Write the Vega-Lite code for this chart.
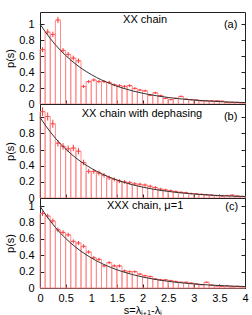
{
  "$schema": "https://vega.github.io/schema/vega-lite/v6.json",
  "padding": {"left": 4, "top": 11, "right": 7, "bottom": 0},
  "spacing": 0,
  "bounds": "flush",
  "datasets": {
    "a": [
      {"s0":0.0,"s1":0.1,"s":0.05,"p":0.68,"e":0.03},
      {"s0":0.1,"s1":0.2,"s":0.15,"p":0.90,"e":0.035},
      {"s0":0.2,"s1":0.3,"s":0.25,"p":0.87,"e":0.035},
      {"s0":0.3,"s1":0.4,"s":0.35,"p":1.05,"e":0.04},
      {"s0":0.4,"s1":0.5,"s":0.45,"p":0.67,"e":0.03},
      {"s0":0.5,"s1":0.6,"s":0.55,"p":0.62,"e":0.03},
      {"s0":0.6,"s1":0.7,"s":0.65,"p":0.575,"e":0.03},
      {"s0":0.7,"s1":0.8,"s":0.75,"p":0.54,"e":0.03},
      {"s0":0.8,"s1":0.9,"s":0.85,"p":0.22,"e":0.02},
      {"s0":0.9,"s1":1.0,"s":0.95,"p":0.28,"e":0.02},
      {"s0":1.0,"s1":1.1,"s":1.05,"p":0.30,"e":0.02},
      {"s0":1.1,"s1":1.2,"s":1.15,"p":0.28,"e":0.02},
      {"s0":1.2,"s1":1.3,"s":1.25,"p":0.28,"e":0.02},
      {"s0":1.3,"s1":1.4,"s":1.35,"p":0.27,"e":0.02},
      {"s0":1.4,"s1":1.5,"s":1.45,"p":0.24,"e":0.018},
      {"s0":1.5,"s1":1.6,"s":1.55,"p":0.23,"e":0.018},
      {"s0":1.6,"s1":1.7,"s":1.65,"p":0.22,"e":0.018},
      {"s0":1.7,"s1":1.8,"s":1.75,"p":0.23,"e":0.018},
      {"s0":1.8,"s1":1.9,"s":1.85,"p":0.195,"e":0.016},
      {"s0":1.9,"s1":2.0,"s":1.95,"p":0.175,"e":0.015},
      {"s0":2.0,"s1":2.1,"s":2.05,"p":0.165,"e":0.015},
      {"s0":2.1,"s1":2.2,"s":2.15,"p":0.11,"e":0.012},
      {"s0":2.2,"s1":2.3,"s":2.25,"p":0.14,"e":0.014},
      {"s0":2.3,"s1":2.4,"s":2.35,"p":0.105,"e":0.012},
      {"s0":2.4,"s1":2.5,"s":2.45,"p":0.07,"e":0.01},
      {"s0":2.5,"s1":2.6,"s":2.55,"p":0.055,"e":0.009},
      {"s0":2.6,"s1":2.7,"s":2.65,"p":0.07,"e":0.01},
      {"s0":2.7,"s1":2.8,"s":2.75,"p":0.095,"e":0.011},
      {"s0":2.8,"s1":2.9,"s":2.85,"p":0.06,"e":0.009},
      {"s0":2.9,"s1":3.0,"s":2.95,"p":0.055,"e":0.009},
      {"s0":3.0,"s1":3.1,"s":3.05,"p":0.05,"e":0.008},
      {"s0":3.1,"s1":3.2,"s":3.15,"p":0.04,"e":0.008},
      {"s0":3.2,"s1":3.3,"s":3.25,"p":0.04,"e":0.008},
      {"s0":3.3,"s1":3.4,"s":3.35,"p":0.04,"e":0.008},
      {"s0":3.4,"s1":3.5,"s":3.45,"p":0.04,"e":0.008},
      {"s0":3.5,"s1":3.6,"s":3.55,"p":0.035,"e":0.007},
      {"s0":3.6,"s1":3.7,"s":3.65,"p":0.02,"e":0.006},
      {"s0":3.7,"s1":3.8,"s":3.75,"p":0.02,"e":0.006},
      {"s0":3.8,"s1":3.9,"s":3.85,"p":0.02,"e":0.006},
      {"s0":3.9,"s1":4.0,"s":3.95,"p":0.015,"e":0.005}
    ],
    "b": [
      {"s0":0.0,"s1":0.1,"s":0.05,"p":1.07,"e":0.055},
      {"s0":0.1,"s1":0.2,"s":0.15,"p":1.01,"e":0.05},
      {"s0":0.2,"s1":0.3,"s":0.25,"p":0.92,"e":0.05},
      {"s0":0.3,"s1":0.4,"s":0.35,"p":0.68,"e":0.04},
      {"s0":0.4,"s1":0.5,"s":0.45,"p":0.64,"e":0.04},
      {"s0":0.5,"s1":0.6,"s":0.55,"p":0.61,"e":0.04},
      {"s0":0.6,"s1":0.7,"s":0.65,"p":0.62,"e":0.04},
      {"s0":0.7,"s1":0.8,"s":0.75,"p":0.58,"e":0.04},
      {"s0":0.8,"s1":0.9,"s":0.85,"p":0.44,"e":0.035},
      {"s0":0.9,"s1":1.0,"s":0.95,"p":0.33,"e":0.03},
      {"s0":1.0,"s1":1.1,"s":1.05,"p":0.33,"e":0.03},
      {"s0":1.1,"s1":1.2,"s":1.15,"p":0.31,"e":0.03},
      {"s0":1.2,"s1":1.3,"s":1.25,"p":0.28,"e":0.028},
      {"s0":1.3,"s1":1.4,"s":1.35,"p":0.25,"e":0.026},
      {"s0":1.4,"s1":1.5,"s":1.45,"p":0.23,"e":0.025},
      {"s0":1.5,"s1":1.6,"s":1.55,"p":0.21,"e":0.024},
      {"s0":1.6,"s1":1.7,"s":1.65,"p":0.20,"e":0.023},
      {"s0":1.7,"s1":1.8,"s":1.75,"p":0.19,"e":0.022},
      {"s0":1.8,"s1":1.9,"s":1.85,"p":0.175,"e":0.021},
      {"s0":1.9,"s1":2.0,"s":1.95,"p":0.17,"e":0.02},
      {"s0":2.0,"s1":2.1,"s":2.05,"p":0.16,"e":0.02},
      {"s0":2.1,"s1":2.2,"s":2.15,"p":0.145,"e":0.02},
      {"s0":2.2,"s1":2.3,"s":2.25,"p":0.13,"e":0.018},
      {"s0":2.3,"s1":2.4,"s":2.35,"p":0.11,"e":0.016},
      {"s0":2.4,"s1":2.5,"s":2.45,"p":0.10,"e":0.015},
      {"s0":2.5,"s1":2.6,"s":2.55,"p":0.09,"e":0.015},
      {"s0":2.6,"s1":2.7,"s":2.65,"p":0.08,"e":0.014},
      {"s0":2.7,"s1":2.8,"s":2.75,"p":0.07,"e":0.013},
      {"s0":2.8,"s1":2.9,"s":2.85,"p":0.065,"e":0.013},
      {"s0":2.9,"s1":3.0,"s":2.95,"p":0.055,"e":0.012},
      {"s0":3.0,"s1":3.1,"s":3.05,"p":0.05,"e":0.011},
      {"s0":3.1,"s1":3.2,"s":3.15,"p":0.045,"e":0.011},
      {"s0":3.2,"s1":3.3,"s":3.25,"p":0.04,"e":0.01},
      {"s0":3.3,"s1":3.4,"s":3.35,"p":0.035,"e":0.01},
      {"s0":3.4,"s1":3.5,"s":3.45,"p":0.03,"e":0.009},
      {"s0":3.5,"s1":3.6,"s":3.55,"p":0.025,"e":0.008},
      {"s0":3.6,"s1":3.7,"s":3.65,"p":0.03,"e":0.009},
      {"s0":3.7,"s1":3.8,"s":3.75,"p":0.035,"e":0.01},
      {"s0":3.8,"s1":3.9,"s":3.85,"p":0.025,"e":0.008},
      {"s0":3.9,"s1":4.0,"s":3.95,"p":0.02,"e":0.007}
    ],
    "c": [
      {"s0":0.0,"s1":0.1,"s":0.05,"p":0.91,"e":0.03},
      {"s0":0.1,"s1":0.2,"s":0.15,"p":0.88,"e":0.03},
      {"s0":0.2,"s1":0.3,"s":0.25,"p":0.82,"e":0.03},
      {"s0":0.3,"s1":0.4,"s":0.35,"p":0.71,"e":0.028},
      {"s0":0.4,"s1":0.5,"s":0.45,"p":0.68,"e":0.027},
      {"s0":0.5,"s1":0.6,"s":0.55,"p":0.65,"e":0.026},
      {"s0":0.6,"s1":0.7,"s":0.65,"p":0.57,"e":0.025},
      {"s0":0.7,"s1":0.8,"s":0.75,"p":0.55,"e":0.025},
      {"s0":0.8,"s1":0.9,"s":0.85,"p":0.51,"e":0.024},
      {"s0":0.9,"s1":1.0,"s":0.95,"p":0.44,"e":0.022},
      {"s0":1.0,"s1":1.1,"s":1.05,"p":0.37,"e":0.02},
      {"s0":1.1,"s1":1.2,"s":1.15,"p":0.35,"e":0.02},
      {"s0":1.2,"s1":1.3,"s":1.25,"p":0.27,"e":0.018},
      {"s0":1.3,"s1":1.4,"s":1.35,"p":0.31,"e":0.019},
      {"s0":1.4,"s1":1.5,"s":1.45,"p":0.27,"e":0.018},
      {"s0":1.5,"s1":1.6,"s":1.55,"p":0.27,"e":0.018},
      {"s0":1.6,"s1":1.7,"s":1.65,"p":0.21,"e":0.016},
      {"s0":1.7,"s1":1.8,"s":1.75,"p":0.20,"e":0.015},
      {"s0":1.8,"s1":1.9,"s":1.85,"p":0.20,"e":0.015},
      {"s0":1.9,"s1":2.0,"s":1.95,"p":0.17,"e":0.014},
      {"s0":2.0,"s1":2.1,"s":2.05,"p":0.15,"e":0.013},
      {"s0":2.1,"s1":2.2,"s":2.15,"p":0.14,"e":0.013},
      {"s0":2.2,"s1":2.3,"s":2.25,"p":0.11,"e":0.011},
      {"s0":2.3,"s1":2.4,"s":2.35,"p":0.10,"e":0.011},
      {"s0":2.4,"s1":2.5,"s":2.45,"p":0.10,"e":0.011},
      {"s0":2.5,"s1":2.6,"s":2.55,"p":0.09,"e":0.01},
      {"s0":2.6,"s1":2.7,"s":2.65,"p":0.08,"e":0.01},
      {"s0":2.7,"s1":2.8,"s":2.75,"p":0.07,"e":0.009},
      {"s0":2.8,"s1":2.9,"s":2.85,"p":0.07,"e":0.009},
      {"s0":2.9,"s1":3.0,"s":2.95,"p":0.06,"e":0.008},
      {"s0":3.0,"s1":3.1,"s":3.05,"p":0.05,"e":0.008},
      {"s0":3.1,"s1":3.2,"s":3.15,"p":0.04,"e":0.007},
      {"s0":3.2,"s1":3.3,"s":3.25,"p":0.07,"e":0.009},
      {"s0":3.3,"s1":3.4,"s":3.35,"p":0.035,"e":0.007},
      {"s0":3.4,"s1":3.5,"s":3.45,"p":0.025,"e":0.006},
      {"s0":3.5,"s1":3.6,"s":3.55,"p":0.02,"e":0.005},
      {"s0":3.6,"s1":3.7,"s":3.65,"p":0.025,"e":0.006},
      {"s0":3.7,"s1":3.8,"s":3.75,"p":0.015,"e":0.005},
      {"s0":3.8,"s1":3.9,"s":3.85,"p":0.02,"e":0.005},
      {"s0":3.9,"s1":4.0,"s":3.95,"p":0.015,"e":0.005}
    ],
    "curve": [
      {"s":0.0,"f":1.0},{"s":0.1,"f":0.905},{"s":0.2,"f":0.819},{"s":0.3,"f":0.741},{"s":0.4,"f":0.670},
      {"s":0.5,"f":0.607},{"s":0.6,"f":0.549},{"s":0.7,"f":0.497},{"s":0.8,"f":0.449},{"s":0.9,"f":0.407},
      {"s":1.0,"f":0.368},{"s":1.1,"f":0.333},{"s":1.2,"f":0.301},{"s":1.3,"f":0.273},{"s":1.4,"f":0.247},
      {"s":1.5,"f":0.223},{"s":1.6,"f":0.202},{"s":1.7,"f":0.183},{"s":1.8,"f":0.165},{"s":1.9,"f":0.150},
      {"s":2.0,"f":0.135},{"s":2.1,"f":0.122},{"s":2.2,"f":0.111},{"s":2.3,"f":0.100},{"s":2.4,"f":0.091},
      {"s":2.5,"f":0.082},{"s":2.6,"f":0.074},{"s":2.7,"f":0.067},{"s":2.8,"f":0.061},{"s":2.9,"f":0.055},
      {"s":3.0,"f":0.050},{"s":3.1,"f":0.045},{"s":3.2,"f":0.041},{"s":3.3,"f":0.037},{"s":3.4,"f":0.033},
      {"s":3.5,"f":0.030},{"s":3.6,"f":0.027},{"s":3.7,"f":0.025},{"s":3.8,"f":0.022},{"s":3.9,"f":0.020},
      {"s":4.0,"f":0.018}
    ]
  },
  "vconcat": [
    {
      "width": 205, "height": 92,
      "resolve": {"axis": {"y": "independent"}},
      "layer": [
        {"data": {"name": "a"}, "mark": {"type": "rect", "fill": "transparent", "stroke": "#ff8c8c", "strokeWidth": 1},
         "encoding": {
           "x": {"field": "s0", "type": "quantitative", "scale": {"domain": [0, 4], "nice": false}, "axis": {"labels": false, "title": null, "values": [0,0.5,1,1.5,2,2.5,3,3.5,4]}},
           "x2": {"field": "s1"},
           "y": {"field": "p", "type": "quantitative", "scale": {"domain": [0, 1.15], "nice": false}, "title": "p(s)", "axis": {"values": [0,0.2,0.4,0.6,0.8,1], "format": "~g", "labelOverlap": false}},
           "y2": {"datum": 0}}},
        {"data": {"name": "a"}, "mark": {"type": "errorbar", "color": "#ff3a3a"},
         "encoding": {"x": {"field": "s", "type": "quantitative", "axis": {"labels": false, "title": null, "values": [0,0.5,1,1.5,2,2.5,3,3.5,4]}}, "y": {"field": "p", "type": "quantitative", "axis": null}, "yError": {"field": "e"}}},
        {"data": {"name": "a"}, "mark": {"type": "tick", "orient": "horizontal", "color": "#ff3a3a", "size": 4, "thickness": 1},
         "encoding": {"x": {"field": "s", "type": "quantitative", "axis": {"labels": false, "title": null, "values": [0,0.5,1,1.5,2,2.5,3,3.5,4]}}, "y": {"field": "p", "type": "quantitative", "axis": null}}},
        {"data": {"name": "curve"}, "mark": {"type": "line", "color": "#333333", "strokeWidth": 1},
         "encoding": {"x": {"field": "s", "type": "quantitative", "axis": {"labels": false, "title": null, "values": [0,0.5,1,1.5,2,2.5,3,3.5,4]}}, "y": {"field": "f", "type": "quantitative", "axis": {"orient": "right", "labels": false, "title": null, "values": [0,0.2,0.4,0.6,0.8,1]}}}},
        {"data": {"values": [{}]}, "mark": {"type": "text", "fontSize": 11, "font": "Liberation Sans"},
         "encoding": {"x": {"datum": 2.05, "axis": {"labels": false, "title": null, "values": [0,0.5,1,1.5,2,2.5,3,3.5,4]}}, "y": {"datum": 1.05, "axis": null}, "text": {"value": "XX chain"}}},
        {"data": {"values": [{}]}, "mark": {"type": "text", "fontSize": 11, "font": "Liberation Sans"},
         "encoding": {"x": {"datum": 3.72, "axis": {"labels": false, "title": null, "values": [0,0.5,1,1.5,2,2.5,3,3.5,4]}}, "y": {"datum": 0.99, "axis": null}, "text": {"value": "(a)"}}}
      ]
    },
    {
      "width": 205, "height": 94,
      "resolve": {"axis": {"y": "independent"}},
      "layer": [
        {"data": {"name": "b"}, "mark": {"type": "rect", "fill": "transparent", "stroke": "#ff8c8c", "strokeWidth": 1},
         "encoding": {
           "x": {"field": "s0", "type": "quantitative", "scale": {"domain": [0, 4], "nice": false}, "axis": {"labels": false, "title": null, "values": [0,0.5,1,1.5,2,2.5,3,3.5,4]}},
           "x2": {"field": "s1"},
           "y": {"field": "p", "type": "quantitative", "scale": {"domain": [0, 1.165], "nice": false}, "title": "p(s)", "axis": {"values": [0,0.2,0.4,0.6,0.8,1], "format": "~g", "labelOverlap": false}},
           "y2": {"datum": 0}}},
        {"data": {"name": "b"}, "mark": {"type": "errorbar", "color": "#ff3a3a"},
         "encoding": {"x": {"field": "s", "type": "quantitative", "axis": {"labels": false, "title": null, "values": [0,0.5,1,1.5,2,2.5,3,3.5,4]}}, "y": {"field": "p", "type": "quantitative", "axis": null}, "yError": {"field": "e"}}},
        {"data": {"name": "b"}, "mark": {"type": "tick", "orient": "horizontal", "color": "#ff3a3a", "size": 4, "thickness": 1},
         "encoding": {"x": {"field": "s", "type": "quantitative", "axis": {"labels": false, "title": null, "values": [0,0.5,1,1.5,2,2.5,3,3.5,4]}}, "y": {"field": "p", "type": "quantitative", "axis": null}}},
        {"data": {"name": "curve"}, "mark": {"type": "line", "color": "#333333", "strokeWidth": 1},
         "encoding": {"x": {"field": "s", "type": "quantitative", "axis": {"labels": false, "title": null, "values": [0,0.5,1,1.5,2,2.5,3,3.5,4]}}, "y": {"field": "f", "type": "quantitative", "axis": {"orient": "right", "labels": false, "title": null, "values": [0,0.2,0.4,0.6,0.8,1]}}}},
        {"data": {"values": [{}]}, "mark": {"type": "text", "fontSize": 11, "font": "Liberation Sans"},
         "encoding": {"x": {"datum": 1.99, "axis": {"labels": false, "title": null, "values": [0,0.5,1,1.5,2,2.5,3,3.5,4]}}, "y": {"datum": 1.04, "axis": null}, "text": {"value": "XX chain with dephasing"}}},
        {"data": {"values": [{}]}, "mark": {"type": "text", "fontSize": 11, "font": "Liberation Sans"},
         "encoding": {"x": {"datum": 3.72, "axis": {"labels": false, "title": null, "values": [0,0.5,1,1.5,2,2.5,3,3.5,4]}}, "y": {"datum": 1.0, "axis": null}, "text": {"value": "(b)"}}}
      ]
    },
    {
      "width": 205, "height": 90,
      "resolve": {"axis": {"y": "independent"}},
      "layer": [
        {"data": {"name": "c"}, "mark": {"type": "rect", "fill": "transparent", "stroke": "#ff8c8c", "strokeWidth": 1},
         "encoding": {
           "x": {"field": "s0", "type": "quantitative", "scale": {"domain": [0, 4], "nice": false}, "title": "s=λⱼ₊₁-λⱼ", "axis": {"values": [0,0.5,1,1.5,2,2.5,3,3.5,4], "format": "~g", "labelOverlap": false, "labelPadding": 8, "titlePadding": 1}},
           "x2": {"field": "s1"},
           "y": {"field": "p", "type": "quantitative", "scale": {"domain": [0, 1.1], "nice": false}, "title": "p(s)", "axis": {"values": [0,0.2,0.4,0.6,0.8,1], "format": "~g", "labelOverlap": false}},
           "y2": {"datum": 0}}},
        {"data": {"name": "c"}, "mark": {"type": "errorbar", "color": "#ff3a3a"},
         "encoding": {"x": {"field": "s", "type": "quantitative", "title": "s=λⱼ₊₁-λⱼ", "axis": {"values": [0,0.5,1,1.5,2,2.5,3,3.5,4], "format": "~g", "labelOverlap": false, "labelPadding": 8, "titlePadding": 1}}, "y": {"field": "p", "type": "quantitative", "axis": null}, "yError": {"field": "e"}}},
        {"data": {"name": "c"}, "mark": {"type": "tick", "orient": "horizontal", "color": "#ff3a3a", "size": 4, "thickness": 1},
         "encoding": {"x": {"field": "s", "type": "quantitative", "title": "s=λⱼ₊₁-λⱼ", "axis": {"values": [0,0.5,1,1.5,2,2.5,3,3.5,4], "format": "~g", "labelOverlap": false, "labelPadding": 8, "titlePadding": 1}}, "y": {"field": "p", "type": "quantitative", "axis": null}}},
        {"data": {"name": "curve"}, "mark": {"type": "line", "color": "#333333", "strokeWidth": 1},
         "encoding": {"x": {"field": "s", "type": "quantitative", "title": "s=λⱼ₊₁-λⱼ", "axis": {"values": [0,0.5,1,1.5,2,2.5,3,3.5,4], "format": "~g", "labelOverlap": false, "labelPadding": 8, "titlePadding": 1}}, "y": {"field": "f", "type": "quantitative", "axis": {"orient": "right", "labels": false, "title": null, "values": [0,0.2,0.4,0.6,0.8,1]}}}},
        {"data": {"values": [{}]}, "mark": {"type": "text", "fontSize": 11, "font": "Liberation Sans"},
         "encoding": {"x": {"datum": 2.05, "title": "s=λⱼ₊₁-λⱼ", "axis": {"values": [0,0.5,1,1.5,2,2.5,3,3.5,4], "format": "~g", "labelOverlap": false, "labelPadding": 8, "titlePadding": 1}}, "y": {"datum": 1.0, "axis": null}, "text": {"value": "XXX chain, μ=1"}}},
        {"data": {"values": [{}]}, "mark": {"type": "text", "fontSize": 11, "font": "Liberation Sans"},
         "encoding": {"x": {"datum": 3.74, "title": "s=λⱼ₊₁-λⱼ", "axis": {"values": [0,0.5,1,1.5,2,2.5,3,3.5,4], "format": "~g", "labelOverlap": false, "labelPadding": 8, "titlePadding": 1}}, "y": {"datum": 0.99, "axis": null}, "text": {"value": "(c)"}}}
      ]
    }
  ],
  "config": {
    "font": "Liberation Sans",
    "view": {"stroke": "#222222", "strokeWidth": 1},
    "axis": {
      "grid": false, "domain": false,
      "labelFont": "Liberation Sans", "titleFont": "Liberation Sans",
      "labelFontSize": 11, "titleFontSize": 11, "titleFontWeight": "normal",
      "labelColor": "#000000", "titleColor": "#000000",
      "tickColor": "#222222", "tickSize": -4, "labelPadding": 10,
      "titlePadding": 3, "labelFlush": false, "labelOverlap": false
    }
  }
}
